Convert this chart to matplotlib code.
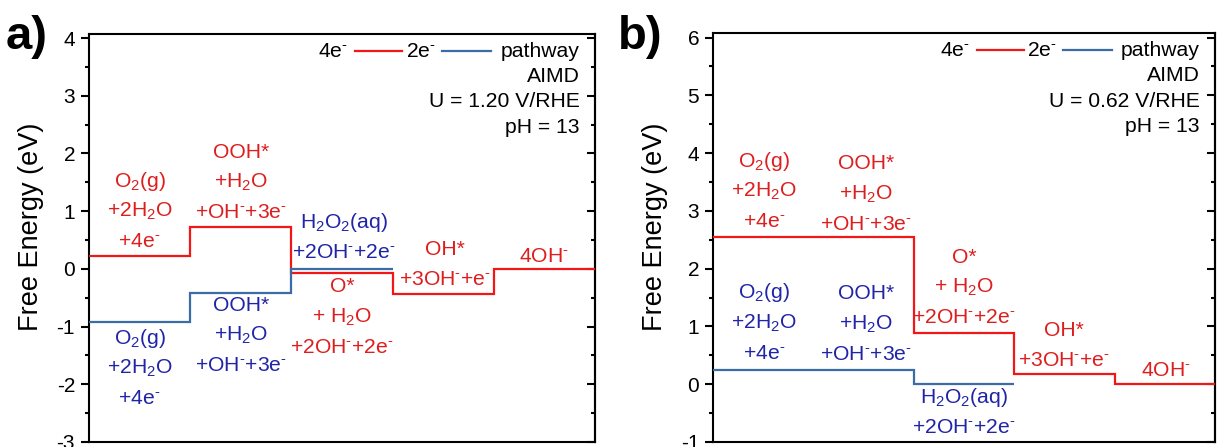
import matplotlib.pyplot as plt
from matplotlib.ticker import MultipleLocator

plt.rcParams['font.family'] = ['Liberation Sans', 'DejaVu Sans']
plt.rcParams['mathtext.fontset'] = 'custom'
plt.rcParams['mathtext.rm'] = 'Liberation Sans'
plt.rcParams['mathtext.it'] = 'Liberation Sans:italic'
plt.rcParams['mathtext.bf'] = 'Liberation Sans:bold'
plt.rcParams['axes.unicode_minus'] = False

# reaction coordinate edges (5 intermediates)
edges_4e = [0, 1, 2, 3, 4, 5]
edges_2e = [0, 1, 2, 3]

# free energy levels (eV)
a_4e = [0.22, 0.73, -0.07, -0.44, 0.0]
a_2e = [-0.92, -0.41, 0.0]
b_4e = [2.54, 2.54, 0.88, 0.18, 0.0]
b_2e = [0.25, 0.25, 0.0]

a_ylim = (-3, 4.07)
b_ylim = (-1, 6.08)
a_U = "U = 1.20 V/RHE"
b_U = "U = 0.62 V/RHE"

# species labels
M = r"$^{\text{-}}$"
O2 = ["O$_2$(g)", "+2H$_2$O", "+4e" + M]
OOH = ["OOH*", "+H$_2$O", "+OH" + M + "+3e" + M]
O_ = ["O*", "+ H$_2$O", "+2OH" + M + "+2e" + M]
OH = ["OH*", "+3OH" + M + "+e" + M]
OH4 = ["4OH" + M]
H2O2 = ["H$_2$O$_2$(aq)", "+2OH" + M + "+2e" + M]

RED = '#F21616'
RED_TXT = '#DE1E1E'
BLUE = '#3A6DA8'
BLUE_TXT = '#2024A6'

# (x centre, y of first line, colour, lines)
a_labels = [
    (0.5, 1.52, RED_TXT, O2),
    (1.5, 2.02, RED_TXT, OOH),
    (2.52, 0.80, BLUE_TXT, H2O2),
    (2.5, -0.31, RED_TXT, O_),
    (3.52, 0.34, RED_TXT, OH),
    (4.5, 0.22, RED_TXT, OH4),
    (0.5, -1.20, BLUE_TXT, O2),
    (1.5, -0.63, BLUE_TXT, OOH),
]
b_labels = [
    (0.51, 3.86, RED_TXT, O2),
    (1.52, 3.82, RED_TXT, OOH),
    (2.5, 2.20, RED_TXT, O_),
    (3.5, 0.93, RED_TXT, OH),
    (4.51, 0.24, RED_TXT, OH4),
    (0.51, 1.58, BLUE_TXT, O2),
    (1.52, 1.57, BLUE_TXT, OOH),
    (2.5, -0.23, BLUE_TXT, H2O2),
]

LINE_GAP = 0.525
FS = 15.2

fig = plt.figure(figsize=(12.21, 4.47), dpi=100)
ax_a = fig.add_axes([0.0729, 0.0112, 0.4144, 0.9128])
ax_b = fig.add_axes([0.5840, 0.0112, 0.4111, 0.9150])


def draw_panel(ax, lv4, lv2, ylim, labels, u_text, tag, tag_x):
    ax.stairs(lv4, edges_4e, baseline=None, color=RED, lw=1.6, zorder=3)
    ax.stairs(lv2, edges_2e, baseline=None, color=BLUE, lw=1.6, zorder=3)
    ax.set_xlim(0, 5)
    ax.set_ylim(*ylim)
    ax.set_xticks([])
    ax.yaxis.set_major_locator(MultipleLocator(1))
    ax.yaxis.set_minor_locator(MultipleLocator(0.5))
    ax.tick_params(axis='y', which='major', direction='out', length=6, width=1.5,
                   labelsize=15, pad=4)
    ax.tick_params(axis='y', which='minor', direction='out', length=3, width=1.5)
    for sp in ax.spines.values():
        sp.set_linewidth(1.5)
    sec = ax.secondary_yaxis('right')
    sec.yaxis.set_major_locator(MultipleLocator(1))
    sec.yaxis.set_minor_locator(MultipleLocator(0.5))
    sec.tick_params(which='major', direction='in', length=6, width=1.5, labelright=False)
    sec.tick_params(which='minor', direction='in', length=3, width=1.5)
    sec.spines['right'].set_linewidth(1.5)

    ax.set_ylabel("Free Energy (eV)", fontsize=19.5)
    ax.yaxis.set_label_coords(-0.089, 0.527)

    for x, y0, col, lines in labels:
        for i, s in enumerate(lines):
            ax.text(x, y0 - i * LINE_GAP, s, color=col, fontsize=FS,
                    ha='center', va='center')

    # key line
    ty = 0.958
    ax.text(0.512, ty, "4e" + M, transform=ax.transAxes, ha='right', va='center', fontsize=FS)
    ax.plot([0.526, 0.619], [ty, ty], color=RED, lw=1.6, transform=ax.transAxes)
    ax.text(0.686, ty, "2e" + M, transform=ax.transAxes, ha='right', va='center', fontsize=FS)
    ax.plot([0.697, 0.794], [ty, ty], color=BLUE, lw=1.6, transform=ax.transAxes)
    ax.text(0.970, ty, "pathway", transform=ax.transAxes, ha='right', va='center', fontsize=FS)
    for i, s in enumerate(["AIMD", u_text, "pH = 13"]):
        ax.text(0.970, 0.895 - i * 0.0615, s, transform=ax.transAxes,
                ha='right', va='center', fontsize=FS)

    fig.text(tag_x, 1 - 37 / 447, tag, fontsize=34, fontweight='bold',
             ha='left', va='center')


draw_panel(ax_a, a_4e, a_2e, a_ylim, a_labels, a_U, "a)", 6 / 1221)
draw_panel(ax_b, b_4e, b_2e, b_ylim, b_labels, b_U, "b)", 618 / 1221)

fig.savefig("out.png", dpi=100)
